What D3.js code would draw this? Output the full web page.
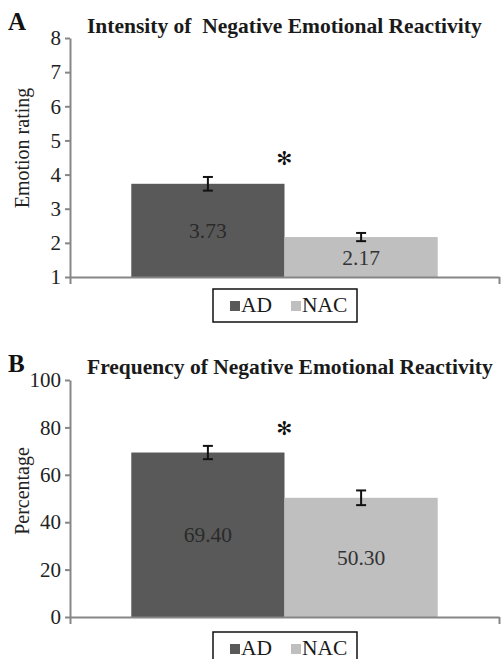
<!DOCTYPE html>
<html>
<head>
<meta charset="utf-8">
<script src="https://cdn.jsdelivr.net/npm/d3@7"></script>
<style>
  body { margin: 0; background: #fff; }
  svg { display: block; }
</style>
</head>
<body>
<div id="chart"></div>
<script>
// values
const groups = ["AD", "NAC"]
const intensityMeans = [3.73, 2.17]
const intensityErrors = [0.2, 0.12]
const intensityTicks = [1, 2, 3, 4, 5, 6, 7, 8]
const frequencyMeans = [69.40, 50.30]
const frequencyErrors = [2.8, 3.1]
const frequencyTicks = [0, 20, 40, 60, 80, 100]

const width = 501
const height = 659
const axisColor = "#868686"
const serif = "'Liberation Serif', 'Times New Roman', 'DejaVu Serif', serif"
const color = d3.scaleOrdinal().domain(groups).range(["#595959", "#bfbfbf"])

const svg = d3.select("#chart").append("svg")
    .attr("width", width)
    .attr("height", height)

const drawPanel = (p) => {
    const g = svg.append("g")

    const y = d3.scaleLinear().domain(p.domain).range([p.bottom, p.top])
    const x = d3.scaleBand().domain(groups).range([p.left, p.right])
        .paddingInner(0).paddingOuter(0.4)

    // panel letter + title
    g.append("text")
        .attr("x", 8).attr("y", p.letterY)
        .style("font-family", serif).style("font-size", "25px").style("font-weight", "bold")
        .attr("fill", "#111")
        .text(p.letter)
    g.append("text")
        .attr("x", 87).attr("y", p.titleY)
        .style("font-family", serif).style("font-size", "21.5px").style("font-weight", "bold")
        .style("white-space", "pre")
        .attr("fill", "#1a1a1a")
        .text(p.title)

    // bars
    g.selectAll("rect.bar")
        .data(p.means)
        .join("rect")
        .attr("class", "bar")
        .attr("x", (d, i) => x(groups[i]))
        .attr("width", x.bandwidth())
        .attr("y", d => y(d))
        .attr("height", d => y(p.domain[0]) - y(d))
        .attr("fill", (d, i) => color(groups[i]))

    // value labels in the middle of the bars
    g.selectAll("text.val")
        .data(p.means)
        .join("text")
        .attr("class", "val")
        .attr("x", (d, i) => x(groups[i]) + x.bandwidth() / 2)
        .attr("y", d => (y(d) + y(p.domain[0])) / 2)
        .attr("dy", "0.35em")
        .attr("text-anchor", "middle")
        .style("font-family", serif).style("font-size", "21.5px")
        .attr("fill", (d, i) => i === 0 ? "#2a2a2a" : "#333")
        .text(d => d.toFixed(2))

    // error bars
    const err = g.append("g").attr("stroke", "#111").attr("stroke-width", 2)
    p.means.forEach((m, i) => {
        const cx = x(groups[i]) + x.bandwidth() / 2
        const hi = y(m + p.errors[i])
        const lo = y(m - p.errors[i])
        err.append("line").attr("x1", cx).attr("x2", cx).attr("y1", hi).attr("y2", lo)
        err.append("line").attr("x1", cx - 5).attr("x2", cx + 5).attr("y1", hi).attr("y2", hi)
        err.append("line").attr("x1", cx - 5).attr("x2", cx + 5).attr("y1", lo).attr("y2", lo)
    })

    // significance star between the bars
    g.append("text")
        .attr("x", x("NAC"))
        .attr("y", y(p.star))
        .attr("dy", "0.38em")
        .attr("text-anchor", "middle")
        .style("font-family", "'DejaVu Sans', sans-serif").style("font-size", "19px")
        .attr("fill", "#111")
        .text("\u273B")

    // y axis
    const yAxis = g.append("g")
        .attr("transform", `translate(${p.left},0)`)
        .call(d3.axisLeft(y).tickValues(p.ticks).tickFormat(d3.format("d"))
            .tickSize(5).tickSizeOuter(0).tickPadding(4))
    yAxis.selectAll("path, line").attr("stroke", axisColor).attr("stroke-width", 2)
    yAxis.selectAll("text")
        .style("font-family", serif).style("font-size", "21px")
        .attr("fill", "#222")

    // x axis: a plain line with end ticks
    const xEdge = d3.scaleLinear().domain([0, 1]).range([p.left, p.right])
    const xAxis = g.append("g")
        .attr("transform", `translate(0,${p.bottom})`)
        .call(d3.axisBottom(xEdge).tickValues([0, 1]).tickFormat("").tickSize(7).tickSizeOuter(0))
    xAxis.selectAll("path, line").attr("stroke", axisColor).attr("stroke-width", 2)

    // y label
    g.append("text")
        .attr("transform", `translate(29,${p.labelY}) rotate(-90)`)
        .attr("text-anchor", "middle")
        .style("font-family", serif).style("font-size", "20px")
        .attr("fill", "#222")
        .text(p.yLabel)

    // legend
    const lg = g.append("g").attr("transform", `translate(213,${p.legendTop})`)
    lg.append("rect")
        .attr("x", 0).attr("y", 0)
        .attr("width", 144).attr("height", 33)
        .attr("fill", "none").attr("stroke", "#111").attr("stroke-width", 1.5)
    const items = lg.selectAll("g.item")
        .data(groups)
        .join("g")
        .attr("class", "item")
        .attr("transform", (d, i) => `translate(${i === 0 ? 17 : 78},0)`)
    items.append("rect")
        .attr("x", 0).attr("y", 12)
        .attr("width", 10).attr("height", 10)
        .attr("fill", d => color(d))
    items.append("text")
        .attr("x", 11).attr("y", 22.5)
        .style("font-family", serif).style("font-size", "21.5px")
        .attr("fill", "#1a1a1a")
        .text(d => d)
}

drawPanel({
    letter: "A", letterY: 30,
    title: "Intensity of  Negative Emotional Reactivity", titleY: 33,
    yLabel: "Emotion rating", labelY: 148,
    domain: [1, 8], ticks: intensityTicks,
    means: intensityMeans, errors: intensityErrors, star: 4.5,
    left: 70, right: 499, top: 38, bottom: 277,
    legendTop: 289
})

drawPanel({
    letter: "B", letterY: 372,
    title: "Frequency of Negative Emotional Reactivity", titleY: 374,
    yLabel: "Percentage", labelY: 491,
    domain: [0, 100], ticks: frequencyTicks,
    means: frequencyMeans, errors: frequencyErrors, star: 80,
    left: 70, right: 499, top: 380, bottom: 617,
    legendTop: 632
})
</script>
</body>
</html>
